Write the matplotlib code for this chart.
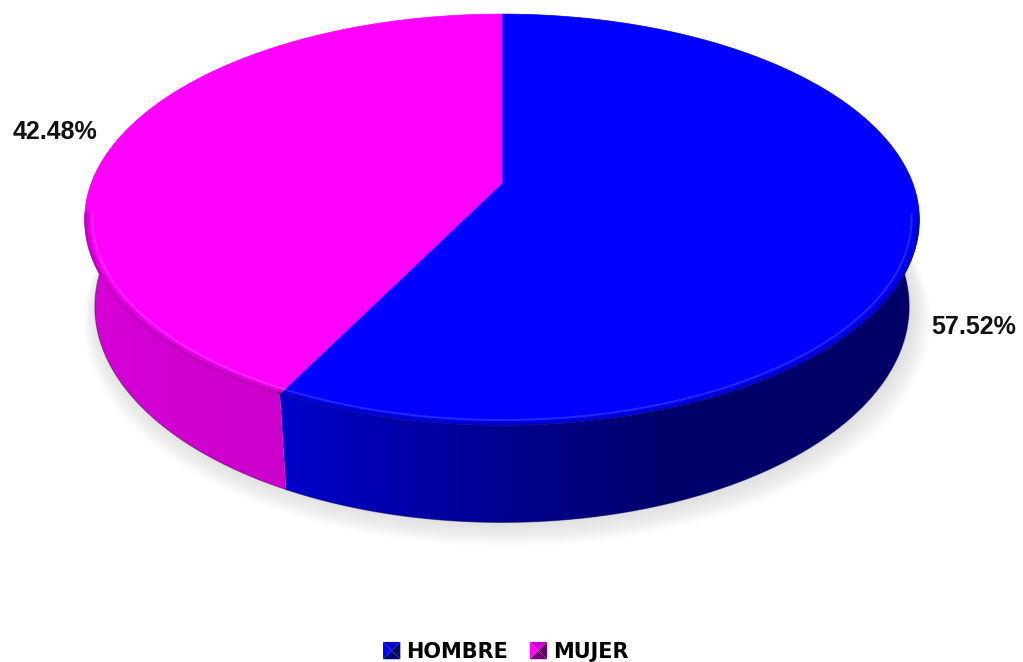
import numpy as np
import matplotlib
matplotlib.use("Agg")
import matplotlib.pyplot as plt
from matplotlib.patches import Polygon
from matplotlib.legend_handler import HandlerBase
from matplotlib.colors import to_rgb

# data
labels = ["HOMBRE", "MUJER"]
values = [57.52, 42.48]
colors = ["#0000ff", "#ff00ff"]

# fake 3d view of the pie (perspective camera above, looking down)
PHI = np.radians(29.0)
CS, SN = np.cos(PHI), np.sin(PHI)
DIST = 4.9
FOC = 2012.0
THICK = 0.245
CX, CY = 502.0, 183.0


def project(X, Y, Z):
    d = DIST + Y * CS - Z * SN
    sx = FOC * X / d
    sy = FOC * (Y * SN + Z * CS) / d
    return CX + sx, CY - sy


def rim(t, z, r=1.0):
    # t measured clockwise from 12 o'clock (the far side)
    return project(r * np.sin(t), r * np.cos(t), z)


def wall_shade(u):
    return np.interp(u, [0, 0.23, 0.5, 0.7, 1.0], [0.84, 0.80, 0.56, 0.42, 0.40])


fig = plt.figure(figsize=(10.23, 6.62), dpi=100)
ax = fig.add_axes([0, 0, 1, 1])
ax.set_xlim(0, 1023)
ax.set_ylim(662, 0)
ax.axis("off")

fracs = np.array(values) / sum(values)
starts = np.concatenate([[0], np.cumsum(fracs)[:-1]]) * 2 * np.pi
ends = np.cumsum(fracs) * 2 * np.pi

# soft shadow under the pie
tt = np.linspace(0, 2 * np.pi, 300)
for i in range(12):
    bx, by = rim(tt, -THICK, 1.0 + 0.0035 * i)
    ax.fill(bx + 3 + 0.2 * i, by + 2 + 0.9 * i, color="0.6", alpha=0.025, lw=0, zorder=1)

# front walls, filled with a horizontal shading gradient
for a0, a1, col in zip(starts, ends, colors):
    base = np.array(to_rgb(col))
    t = np.linspace(a0, a1, 600)
    t = t[np.cos(t) < 0.05]
    if len(t) < 2:
        continue
    xt, yt = rim(t, 0)
    xb, yb = rim(t, -THICK)
    pts = np.column_stack([np.concatenate([xt, xb[::-1]]), np.concatenate([yt, yb[::-1]])])
    wall = Polygon(pts, closed=True, fc="none", ec="none")
    ax.add_patch(wall)
    x0, x1 = pts[:, 0].min() - 2, pts[:, 0].max() + 2
    y0, y1 = pts[:, 1].min() - 2, pts[:, 1].max() + 2
    xs = np.linspace(x0, x1, 400)
    grad = np.clip(base[None, :] * wall_shade((xs - 88) / 829)[:, None], 0, 1)
    im = ax.imshow(grad[None, :, :], extent=(x0, x1, y1, y0), aspect="auto",
                   interpolation="bilinear", zorder=2)
    im.set_clip_path(wall)
    ax.plot(xb, yb, color=base * 0.35, lw=0.8, alpha=0.5, zorder=2.5)

# top faces
for a0, a1, col in zip(starts, ends, colors):
    t = np.linspace(a0, a1, 300)
    xt, yt = rim(t, 0)
    cx, cy = project(0, 0, 0)
    pts = np.column_stack([np.concatenate([[cx], xt]), np.concatenate([[cy], yt])])
    ax.add_patch(Polygon(pts, closed=True, fc=col, ec=col, lw=0.5, zorder=3))
    # soft bevel along the front rim
    tf = t[np.cos(t) < -0.15]
    if len(tf) > 1:
        for r, a, w in [(0.995, 0.12, 4), (0.998, 0.12, 2)]:
            ex, ey = rim(tf, 0, r)
            ax.plot(ex, ey, color="black", alpha=a, lw=w, zorder=4)
        hx, hy = rim(tf, 0, 0.982)
        ax.plot(hx, hy, color="white", alpha=0.15, lw=1.5, zorder=4)

# data labels
label_off = [(55, -95), (-64, 6)]
for a0, a1, v, off in zip(starts, ends, values, label_off):
    m = (a0 + a1) / 2
    px, py = rim(m, 0)
    ax.annotate(f"{v:.2f}%", (px, py), xytext=off, textcoords="offset pixels",
                ha="center", va="center", fontsize=18, fontweight="bold",
                family="Liberation Sans", color="#111111", zorder=6)


class PyramidHandler(HandlerBase):
    def create_artists(self, legend, orig_handle, xdescent, ydescent,
                       width, height, fontsize, trans):
        base = np.array(to_rgb(orig_handle.get_facecolor()))
        s = min(width, height)
        x0, y0 = -xdescent + (width - s) / 2, -ydescent + (height - s) / 2
        c = (x0 + s / 2, y0 + s / 2)
        p = [(x0, y0), (x0 + s, y0), (x0 + s, y0 + s), (x0, y0 + s)]
        tris = [(p[0], p[1], 0.45), (p[1], p[2], 0.40), (p[2], p[3], 0.8), (p[3], p[0], 1.0)]
        arts = []
        for a, b, k in tris:
            arts.append(Polygon([a, b, c], closed=True, fc=base * k, ec="none", transform=trans))
        return arts


handles = [plt.Rectangle((0, 0), 1, 1, fc=c) for c in colors]
ax.legend(handles, labels, loc="lower center", bbox_to_anchor=(0.494, -0.028), ncol=2,
          frameon=False, handler_map={plt.Rectangle: PyramidHandler()},
          handlelength=0.9, handleheight=0.9, handletextpad=0.25, columnspacing=1.0,
          prop={"family": "DejaVu Sans", "weight": "bold", "size": 15})

fig.savefig("out.png", dpi=100)
